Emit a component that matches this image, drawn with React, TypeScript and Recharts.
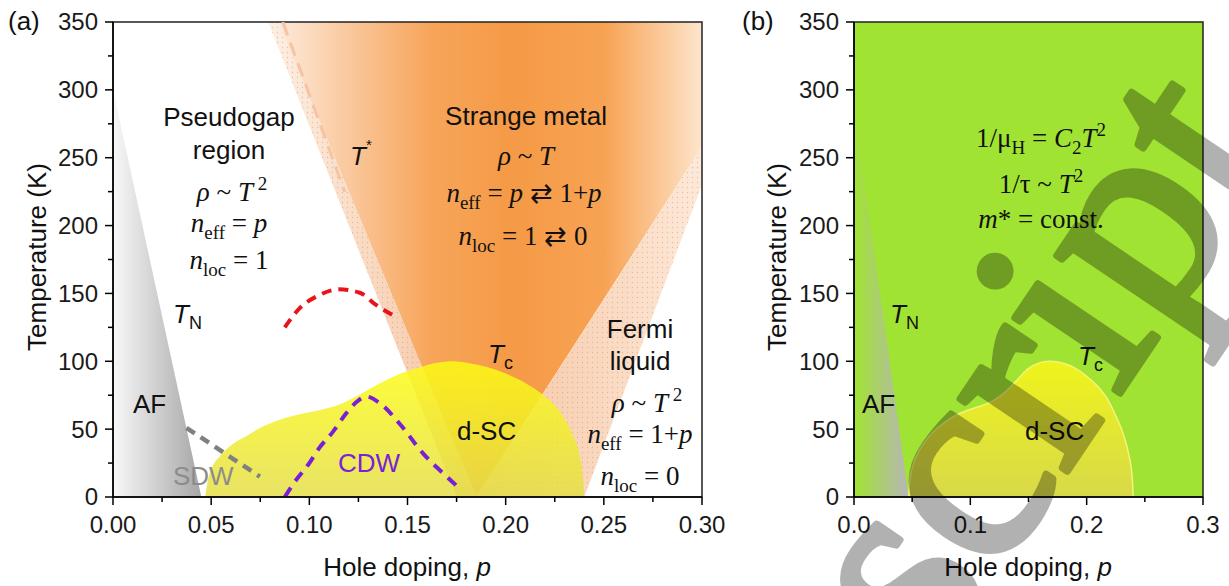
import React from 'react';
import { ComposedChart, Area, Line, XAxis, YAxis, ReferenceArea } from 'recharts';

const SANS = '"Liberation Sans", Arial, sans-serif';
const SERIF = '"Liberation Serif", "Times New Roman", serif';

// axis ticks (minor ticks sit between the labelled ones)
const dopingTicksA = [0, 0.025, 0.05, 0.075, 0.1, 0.125, 0.15, 0.175, 0.2, 0.225, 0.25, 0.275, 0.3];
const dopingTicksB = [0, 0.05, 0.1, 0.15, 0.2, 0.25, 0.3];
const tempTicks = [0, 25, 50, 75, 100, 125, 150, 175, 200, 225, 250, 275, 300, 325, 350];

// panel (a) regions, T in kelvin vs hole doping p
const afWedgeA = [
  { p: 0, t: 300 },
  { p: 0.045, t: 0 },
];
const tStarBand = [
  { p: 0.079, lo: 350, hi: 350 },
  { p: 0.084, lo: 332, hi: 350 },
  { p: 0.175, lo: 0, hi: 35 },
  { p: 0.185, lo: 0, hi: 0 },
];
const strangeMetal = [
  { p: 0.084, lo: 350, hi: 350 },
  { p: 0.185, lo: 0, hi: 350 },
  { p: 0.3, lo: 258, hi: 350 },
];
const fermiBand = [
  { p: 0.185, lo: 0, hi: 0 },
  { p: 0.24, lo: 0, hi: 123 },
  { p: 0.3, lo: 230, hi: 258 },
];
const tStarDash = [
  { p: 0.0865, t: 350 },
  { p: 0.118, t: 225 },
];
const domeA = [
  { p: 0.047, t: 0 }, { p: 0.048, t: 10 }, { p: 0.05, t: 20 }, { p: 0.055, t: 31 },
  { p: 0.062, t: 40 }, { p: 0.068, t: 45 }, { p: 0.075, t: 51 }, { p: 0.085, t: 57 },
  { p: 0.095, t: 61 }, { p: 0.105, t: 64 }, { p: 0.115, t: 68 }, { p: 0.125, t: 75 },
  { p: 0.135, t: 83 }, { p: 0.145, t: 90 }, { p: 0.155, t: 95 }, { p: 0.165, t: 99 },
  { p: 0.172, t: 100 }, { p: 0.18, t: 99 }, { p: 0.19, t: 96 }, { p: 0.2, t: 91 },
  { p: 0.21, t: 84 }, { p: 0.22, t: 74 }, { p: 0.228, t: 62 }, { p: 0.234, t: 46 },
  { p: 0.238, t: 28 }, { p: 0.2395, t: 12 }, { p: 0.24, t: 0 },
];
const pseudogapArc = [
  { p: 0.0875, t: 125 }, { p: 0.095, t: 139 }, { p: 0.104, t: 148 }, { p: 0.115, t: 153 },
  { p: 0.1257, t: 150.5 }, { p: 0.134, t: 141.5 }, { p: 0.145, t: 132 },
];
const cdwLine = [
  { p: 0.0875, t: 0 }, { p: 0.092, t: 10 }, { p: 0.1, t: 25 }, { p: 0.105, t: 36 },
  { p: 0.112, t: 48 }, { p: 0.119, t: 62 }, { p: 0.124, t: 70 }, { p: 0.129, t: 74 },
  { p: 0.136, t: 69 }, { p: 0.146, t: 54 }, { p: 0.158, t: 32 }, { p: 0.17, t: 15 },
  { p: 0.176, t: 7 },
];
const sdwLine = [
  { p: 0.0374, t: 51 },
  { p: 0.0748, t: 15 },
];

// panel (b)
const fullFrame = [
  { p: 0, lo: 0, hi: 350 },
  { p: 0.3, lo: 0, hi: 350 },
];
const afWedgeB = [
  { p: 0, t: 285 },
  { p: 0.047, t: 0 },
];
const domeB = [
  { p: 0.047, t: 0 }, { p: 0.048, t: 12 }, { p: 0.051, t: 24 }, { p: 0.056, t: 34 },
  { p: 0.063, t: 43 }, { p: 0.072, t: 51 }, { p: 0.083, t: 58 }, { p: 0.095, t: 63 },
  { p: 0.105, t: 66 }, { p: 0.115, t: 69 }, { p: 0.125, t: 74 }, { p: 0.132, t: 79 },
  { p: 0.14, t: 86 }, { p: 0.149, t: 94 }, { p: 0.16, t: 99 }, { p: 0.169, t: 100 },
  { p: 0.18, t: 98.5 }, { p: 0.19, t: 95 }, { p: 0.2, t: 89 }, { p: 0.21, t: 81 },
  { p: 0.218, t: 72 }, { p: 0.226, t: 58 }, { p: 0.232, t: 45 }, { p: 0.236, t: 32 },
  { p: 0.239, t: 16 }, { p: 0.24, t: 0 },
];

const range = (d: any) => [d.lo, d.hi];

function DopingTick(props: any) {
  const { x, y, payload, step, digits } = props;
  const v = payload.value as number;
  const major = Math.abs(v / step - Math.round(v / step)) < 1e-6;
  return (
    <g>
      <line x1={x} y1={y} x2={x} y2={y + (major ? 8 : 5)} stroke="#000" strokeWidth={1.5} />
      {major && (
        <text x={x} y={y + 36} textAnchor="middle" fontFamily={SANS} fontSize={24} fill="#1a1a1a">
          {v.toFixed(digits)}
        </text>
      )}
    </g>
  );
}

function TempTick(props: any) {
  const { x, y, payload } = props;
  const v = payload.value as number;
  const major = v % 50 === 0;
  return (
    <g>
      <line x1={x} y1={y} x2={x - (major ? 8 : 5)} y2={y} stroke="#000" strokeWidth={1.5} />
      {major && (
        <text x={x - 15} y={y} dy="0.35em" textAnchor="end" fontFamily={SANS} fontSize={24} fill="#1a1a1a">
          {v}
        </text>
      )}
    </g>
  );
}

function PanelA() {
  return (
    <ComposedChart width={740} height={586} margin={{ top: 22, right: 38, bottom: 49, left: 33 }}>
      <defs>
        <linearGradient id="afGradA" x1="0" y1="0" x2="1" y2="0">
          <stop offset="0" stopColor="#f8f8f8" />
          <stop offset="1" stopColor="#a6a6a6" />
        </linearGradient>
        <linearGradient id="smGrad" x1="0" y1="0" x2="1" y2="0">
          <stop offset="0" stopColor="#fde9da" />
          <stop offset="0.21" stopColor="#f9c08e" />
          <stop offset="0.36" stopColor="#f7a55a" />
          <stop offset="0.55" stopColor="#f59a46" />
          <stop offset="0.77" stopColor="#f7a354" />
          <stop offset="0.91" stopColor="#fbcb9c" />
          <stop offset="1" stopColor="#fde5cc" />
        </linearGradient>
        <linearGradient id="tStarGrad" x1="0" y1="0" x2="1" y2="0">
          <stop offset="0" stopColor="#fdefe4" />
          <stop offset="1" stopColor="#f4c39e" />
        </linearGradient>
        <linearGradient id="fermiGrad" x1="0" y1="0" x2="1" y2="0">
          <stop offset="0" stopColor="#f5c4a0" />
          <stop offset="1" stopColor="#fde9da" />
        </linearGradient>
        <linearGradient id="domeGradA" x1="0" y1="0" x2="0" y2="1">
          <stop offset="0" stopColor="#fdfd10" />
          <stop offset="1" stopColor="#e4de48" />
        </linearGradient>
        <pattern id="dotsA" width="5" height="5" patternUnits="userSpaceOnUse">
          <circle cx="2.5" cy="2.5" r="0.7" fill="#d98a55" fillOpacity="0.45" />
        </pattern>
      </defs>
      <XAxis
        type="number"
        dataKey="p"
        domain={[0, 0.3]}
        ticks={dopingTicksA}
        interval={0}
        allowDataOverflow
        height={40}
        tickLine={false}
        tickSize={0}
        tickMargin={0}
        axisLine={{ stroke: '#000', strokeWidth: 1.5 }}
        tick={(p: any) => <DopingTick {...p} step={0.05} digits={2} />}
      />
      <YAxis
        type="number"
        domain={[0, 350]}
        ticks={tempTicks}
        interval={0}
        allowDataOverflow
        width={80}
        tickLine={false}
        tickSize={0}
        tickMargin={0}
        axisLine={{ stroke: '#000', strokeWidth: 1.5 }}
        tick={(p: any) => <TempTick {...p} />}
      />
      <Area data={afWedgeA} dataKey="t" type="linear" stroke="none" fill="url(#afGradA)" fillOpacity={1} dot={false} activeDot={false} isAnimationActive={false} />
      <Area data={strangeMetal} dataKey={range} type="linear" stroke="none" fill="url(#smGrad)" fillOpacity={1} dot={false} activeDot={false} isAnimationActive={false} />
      <Area data={tStarBand} dataKey={range} type="linear" stroke="none" fill="url(#tStarGrad)" fillOpacity={1} dot={false} activeDot={false} isAnimationActive={false} />
      <Area data={tStarBand} dataKey={range} type="linear" stroke="none" fill="url(#dotsA)" fillOpacity={1} dot={false} activeDot={false} isAnimationActive={false} />
      <Area data={fermiBand} dataKey={range} type="linear" stroke="none" fill="url(#fermiGrad)" fillOpacity={1} dot={false} activeDot={false} isAnimationActive={false} />
      <Area data={fermiBand} dataKey={range} type="linear" stroke="none" fill="url(#dotsA)" fillOpacity={1} dot={false} activeDot={false} isAnimationActive={false} />
      <Line data={tStarDash} dataKey="t" type="linear" stroke="#f6c4a0" strokeWidth={3} strokeDasharray="14 8" dot={false} activeDot={false} isAnimationActive={false} />
      <Area data={domeA} dataKey="t" type="monotone" stroke="none" fill="url(#domeGradA)" fillOpacity={0.84} dot={false} activeDot={false} isAnimationActive={false} />
      <Line data={pseudogapArc} dataKey="t" type="monotone" stroke="#e8141c" strokeWidth={4} strokeDasharray="10 7" dot={false} activeDot={false} isAnimationActive={false} />
      <Line data={cdwLine} dataKey="t" type="monotone" stroke="#7a1fd8" strokeWidth={4} strokeDasharray="11 8" dot={false} activeDot={false} isAnimationActive={false} />
      <Line data={sdwLine} dataKey="t" type="linear" stroke="#808080" strokeWidth={4.5} strokeDasharray="10 7" dot={false} activeDot={false} isAnimationActive={false} />
      <ReferenceArea x1={0} x2={0.3} y1={0} y2={350} fill="none" stroke="#222" strokeWidth={1.5} ifOverflow="visible" />
    </ComposedChart>
  );
}

function PanelB() {
  return (
    <ComposedChart width={460} height={586} margin={{ top: 22, right: 17, bottom: 49, left: 14 }}>
      <defs>
        <linearGradient id="afGradB" x1="0" y1="0" x2="1" y2="0">
          <stop offset="0" stopColor="#b6b6b6" stopOpacity="0" />
          <stop offset="1" stopColor="#b6b6b6" stopOpacity="1" />
        </linearGradient>
        <linearGradient id="domeGradB" x1="0" y1="0" x2="0" y2="1">
          <stop offset="0" stopColor="#f2f51a" />
          <stop offset="1" stopColor="#dad84a" />
        </linearGradient>
      </defs>
      <XAxis
        type="number"
        dataKey="p"
        domain={[0, 0.3]}
        ticks={dopingTicksB}
        interval={0}
        allowDataOverflow
        height={40}
        tickLine={false}
        tickSize={0}
        tickMargin={0}
        axisLine={{ stroke: '#000', strokeWidth: 1.5 }}
        tick={(p: any) => <DopingTick {...p} step={0.1} digits={1} />}
      />
      <YAxis
        type="number"
        domain={[0, 350]}
        ticks={tempTicks}
        interval={0}
        allowDataOverflow
        width={80}
        tickLine={false}
        tickSize={0}
        tickMargin={0}
        axisLine={{ stroke: '#000', strokeWidth: 1.5 }}
        tick={(p: any) => <TempTick {...p} />}
      />
      <Area data={fullFrame} dataKey={range} type="linear" stroke="none" fill="#a1e333" fillOpacity={1} dot={false} activeDot={false} isAnimationActive={false} />
      <Area data={afWedgeB} dataKey="t" type="linear" stroke="none" fill="url(#afGradB)" fillOpacity={1} dot={false} activeDot={false} isAnimationActive={false} />
      <Area data={domeB} dataKey="t" type="monotone" stroke="#f4f47a" strokeWidth={1.5} fill="url(#domeGradB)" fillOpacity={0.96} dot={false} activeDot={false} isAnimationActive={false} />
      <ReferenceArea x1={0} x2={0.3} y1={0} y2={350} fill="none" stroke="#222" strokeWidth={1.5} ifOverflow="visible" />
    </ComposedChart>
  );
}

const sans = { fontFamily: SANS, fontSize: 26, fill: '#111' };
const serif = { fontFamily: SERIF, fontSize: 27, fill: '#111' };

function Labels() {
  return (
    <svg width={1229} height={586} style={{ position: 'absolute', left: 0, top: 0, pointerEvents: 'none' }}>
      {/* panel (a) */}
      <text x={8} y={30} {...sans}>(a)</text>
      <text transform="translate(46,257) rotate(-90)" textAnchor="middle" {...sans}>Temperature (K)</text>
      <text x={407} y={576} textAnchor="middle" {...sans}>
        Hole doping, <tspan fontStyle="italic">p</tspan>
      </text>

      <text x={229} y={126} textAnchor="middle" {...sans}>Pseudogap</text>
      <text x={229} y={159} textAnchor="middle" {...sans}>region</text>
      <text x={232} y={201} textAnchor="middle" {...serif}>
        <tspan fontStyle="italic">ρ</tspan> ~ <tspan fontStyle="italic">T</tspan>
        <tspan fontSize={19} dy={-11}> 2</tspan>
      </text>
      <text x={229} y={232} textAnchor="middle" {...serif}>
        <tspan fontStyle="italic">n</tspan>
        <tspan fontSize={19} dy={7}>eff</tspan>
        <tspan dy={-7}> = </tspan>
        <tspan fontStyle="italic">p</tspan>
      </text>
      <text x={229} y={269} textAnchor="middle" {...serif}>
        <tspan fontStyle="italic">n</tspan>
        <tspan fontSize={19} dy={7}>loc</tspan>
        <tspan dy={-7}> = 1</tspan>
      </text>

      <text x={350} y={165} {...sans}>
        <tspan fontStyle="italic">T</tspan>
        <tspan fontSize={15} dy={-15}>*</tspan>
      </text>

      <text x={526} y={125} textAnchor="middle" {...sans}>Strange metal</text>
      <text x={526} y={165} textAnchor="middle" {...serif}>
        <tspan fontStyle="italic">ρ</tspan> ~ <tspan fontStyle="italic">T</tspan>
      </text>
      <text x={524} y={202} textAnchor="middle" {...serif}>
        <tspan fontStyle="italic">n</tspan>
        <tspan fontSize={19} dy={7}>eff</tspan>
        <tspan dy={-7}> = </tspan>
        <tspan fontStyle="italic">p</tspan>
        <tspan> ⇄ 1+</tspan>
        <tspan fontStyle="italic">p</tspan>
      </text>
      <text x={523} y={245} textAnchor="middle" {...serif}>
        <tspan fontStyle="italic">n</tspan>
        <tspan fontSize={19} dy={7}>loc</tspan>
        <tspan dy={-7}> = 1 ⇄ 0</tspan>
      </text>

      <text x={173} y={323} {...sans}>
        <tspan fontStyle="italic">T</tspan>
        <tspan fontSize={18} dy={6}>N</tspan>
      </text>
      <text x={133} y={413} {...sans}>AF</text>
      <text x={173} y={485} {...sans} fill="#8c8c8c">SDW</text>
      <text x={338} y={472} {...sans} fill="#7a22d8">CDW</text>
      <text x={488} y={363} {...sans}>
        <tspan fontStyle="italic">T</tspan>
        <tspan fontSize={18} dy={6}>c</tspan>
      </text>
      <text x={457} y={440} {...sans}>d-SC</text>

      <text x={640} y={338} textAnchor="middle" {...sans}>Fermi</text>
      <text x={640} y={370} textAnchor="middle" {...sans}>liquid</text>
      <text x={647} y={412} textAnchor="middle" {...serif}>
        <tspan fontStyle="italic">ρ</tspan> ~ <tspan fontStyle="italic">T</tspan>
        <tspan fontSize={19} dy={-11}> 2</tspan>
      </text>
      <text x={640} y={443} textAnchor="middle" {...serif}>
        <tspan fontStyle="italic">n</tspan>
        <tspan fontSize={19} dy={7}>eff</tspan>
        <tspan dy={-7}> = 1+</tspan>
        <tspan fontStyle="italic">p</tspan>
      </text>
      <text x={640} y={485} textAnchor="middle" {...serif}>
        <tspan fontStyle="italic">n</tspan>
        <tspan fontSize={19} dy={7}>loc</tspan>
        <tspan dy={-7}> = 0</tspan>
      </text>

      {/* panel (b) */}
      <text x={742} y={30} {...sans}>(b)</text>
      <text transform="translate(786,257) rotate(-90)" textAnchor="middle" {...sans}>Temperature (K)</text>
      <text x={1028} y={576} textAnchor="middle" {...sans}>
        Hole doping, <tspan fontStyle="italic">p</tspan>
      </text>
      <text x={1041} y={147} textAnchor="middle" {...serif}>
        1/μ<tspan fontSize={19} dy={7}>H</tspan>
        <tspan dy={-7}> = </tspan>
        <tspan fontStyle="italic">C</tspan>
        <tspan fontSize={19} dy={7}>2</tspan>
        <tspan fontStyle="italic" dy={-7}>T</tspan>
        <tspan fontSize={19} dy={-11}>2</tspan>
      </text>
      <text x={1041} y={193} textAnchor="middle" {...serif}>
        1/τ ~ <tspan fontStyle="italic">T</tspan>
        <tspan fontSize={19} dy={-11}>2</tspan>
      </text>
      <text x={1041} y={228} textAnchor="middle" {...serif}>
        <tspan fontStyle="italic">m</tspan>* = const.
      </text>
      <text x={890} y={323} {...sans}>
        <tspan fontStyle="italic">T</tspan>
        <tspan fontSize={18} dy={6}>N</tspan>
      </text>
      <text x={862} y={413} {...sans}>AF</text>
      <text x={1078} y={365} {...sans}>
        <tspan fontStyle="italic">T</tspan>
        <tspan fontSize={18} dy={6}>c</tspan>
      </text>
      <text x={1025} y={440} {...sans}>d-SC</text>

      {/* watermark lettering across panel (b) */}
      <g opacity={0.3}>
        <text
          transform="translate(1108,411) rotate(-56)"
          textAnchor="middle"
          fontFamily={SERIF}
          fontSize={282}
          fill="#000"
          stroke="#000"
          strokeWidth={7}
          strokeLinejoin="round"
        >
          script
        </text>
      </g>
    </svg>
  );
}

export default function App() {
  return (
    <div style={{ position: 'absolute', left: 0, top: 0, width: 1229, height: 586, background: '#fff', overflow: 'hidden' }}>
      <div style={{ position: 'absolute', left: 0, top: 0 }}>
        <PanelA />
      </div>
      <div style={{ position: 'absolute', left: 760, top: 0 }}>
        <PanelB />
      </div>
      <Labels />
    </div>
  );
}
